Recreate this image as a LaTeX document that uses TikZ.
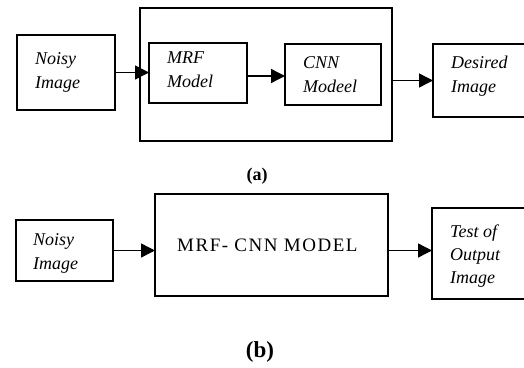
\documentclass[tikz,border=0pt]{standalone}
\usepackage{fontspec}
\setmainfont{Liberation Serif}
\newfontfamily\spacedserif[LetterSpace=8]{Liberation Serif}
\usetikzlibrary{arrows.meta}
\begin{document}
\begin{tikzpicture}[x=1pt,y=-1pt,
  box/.style={draw, line width=1.5pt, rectangle, inner sep=0pt, outer sep=0pt, anchor=north west},
  lbl/.style={anchor=north west, inner sep=0pt, align=left, font=\fontsize{18}{24}\selectfont\itshape},
  arr/.style={line width=1.4pt, -{Triangle[length=14pt,width=14pt]}},
  figcap/.style={inner sep=0pt}]
\useasboundingbox (0,0) rectangle (524,367);
% (a)
\node[box, minimum width=252pt, minimum height=133pt] (outer) at (140,8) {};
\node[box, minimum width=98pt, minimum height=75pt] (na) at (17,35) {};
\node[box, minimum width=98pt, minimum height=60pt] (mrf) at (149,43) {};
\node[box, minimum width=96pt, minimum height=61pt] (cnn) at (285,44) {};
\node[box, minimum width=93pt, minimum height=73pt] (des) at (433,44) {};
\node[lbl] (tna) at (35,47.2) {\strut Noisy\\\strut Image};
\node[lbl] (tmrf) at (167,46.2) {\strut MRF\\\strut Model};
\node[lbl] (tcnn) at (303,51.2) {\strut CNN\\\strut Modeel};
\node[lbl] (tdes) at (451,51.2) {\strut Desired\\\strut Image};
\draw[arr] (na.east) -- (na.east -| mrf.west);
\draw[arr] ([yshift=-3pt]mrf.east) -- ([yshift=-3pt]mrf.east -| cnn.west);
\draw[arr] (des.west -| outer.east) -- (des.west);
\node[figcap, font=\fontsize{18}{21}\selectfont\bfseries] (capa) at (257,176) {(a)};
% (b)
\node[box, minimum width=97pt, minimum height=61pt] (nb) at (16,220) {};
\node[box, minimum width=233pt, minimum height=102pt] (mb) at (155,194) {};
\node[box, minimum width=93pt, minimum height=91pt] (tb) at (432,208) {};
\node[lbl] (tnb) at (33,228.2) {\strut Noisy\\\strut Image};
\node[anchor=base west, inner sep=0pt, font=\fontsize{19}{22}\spacedserif] (tmb) at (177,251) {MRF- CNN MODEL};
\node[lbl, font=\fontsize{18}{23}\selectfont\itshape] (ttb) at (450,220.9) {\strut Test of\\\strut Output\\\strut Image};
\draw[arr] (nb.east) -- (nb.east -| mb.west);
\draw[arr] (nb.east -| mb.east) -- (nb.east -| tb.west);
\node[figcap, font=\fontsize{23}{27}\selectfont\bfseries] (capb) at (260,352) {(b)};
\end{tikzpicture}
\end{document}
